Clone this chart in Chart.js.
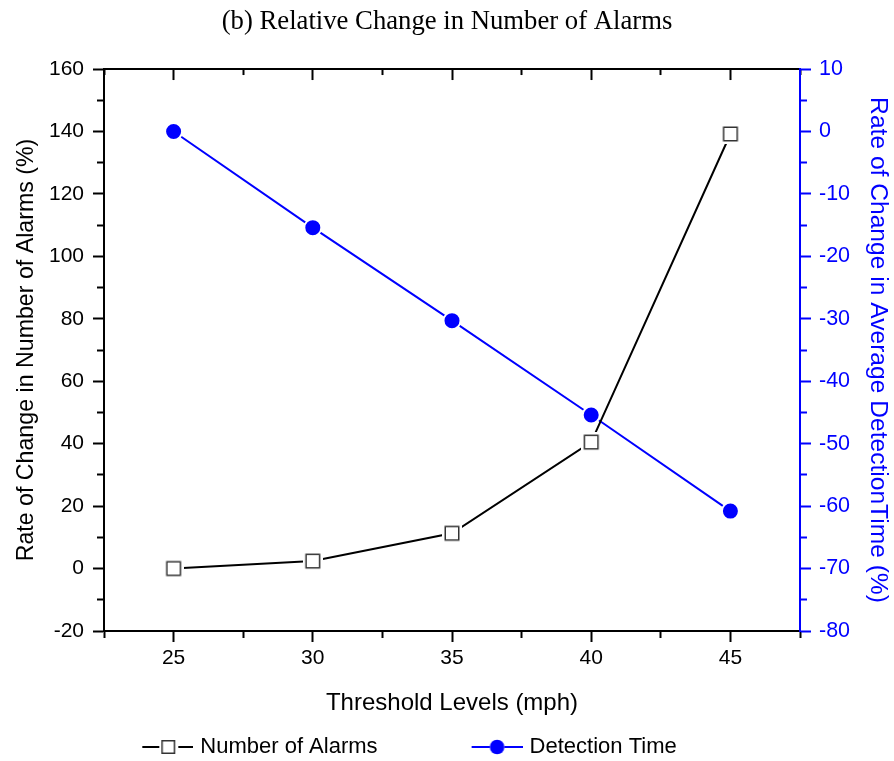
<!DOCTYPE html>
<html>
<head>
<meta charset="utf-8">
<script src="https://cdn.jsdelivr.net/npm/chart.js@4/dist/chart.umd.min.js"></script>
<style>
html, body { margin: 0; padding: 0; background: #fff; }
#wrap { width: 894px; height: 761px; }
</style>
</head>
<body>
<div id="wrap"><canvas id="c" width="894" height="761"></canvas></div>
<script>
// ---- data ----
const chartTitle = '(b) Relative Change in Number of Alarms';
const xTitle = 'Threshold Levels (mph)';
const leftTitle = 'Rate of Change in Number of Alarms (%)';
const rightTitle = 'Rate of Change in Average DetectionTime (%)';
const seriesNames = ['Number of Alarms', 'Detection Time'];
const thresholds = [25, 30, 35, 40, 45];
const alarmsChange = [0, 2.4, 11.3, 40.5, 139.2];
const detectionChange = [0, -15.4, -30.3, -45.4, -60.8];
const xMajorTicks = [25, 30, 35, 40, 45];
const xMinorTicks = [22.5, 27.5, 32.5, 37.5, 42.5, 47.5];
const leftMajorTicks = [-20, 0, 20, 40, 60, 80, 100, 120, 140, 160];
const leftMinorTicks = [-10, 10, 30, 50, 70, 90, 110, 130, 150];
const rightMajorTicks = [-80, -70, -60, -50, -40, -30, -20, -10, 0, 10];
const rightMinorTicks = [-75, -65, -55, -45, -35, -25, -15, -5, 5];

const BLUE = '#0000ff';
const BLACK = '#000000';
Chart.defaults.font.family = "'Liberation Sans', Arial, sans-serif";

// ---- marker images ----
function squareMarker() {
  const c = document.createElement('canvas');
  c.width = 20; c.height = 20;
  const g = c.getContext('2d');
  g.fillStyle = '#fff'; g.fillRect(0, 0, 20, 20);
  g.strokeStyle = '#333'; g.lineWidth = 1.5;
  g.strokeRect(3.25, 3.25, 13.5, 13.5);
  return c;
}
const LEG_W = 131;
function legendIcon(kind) {
  const w = LEG_W + 8, h = 22;
  const c = document.createElement('canvas');
  c.width = w; c.height = h;
  const g = c.getContext('2d');
  const s = w - 51;
  g.lineWidth = 2;
  if (kind === 0) {
    g.strokeStyle = BLACK;
    g.beginPath(); g.moveTo(s, 11); g.lineTo(s + 17, 11); g.stroke();
    g.beginPath(); g.moveTo(s + 36, 11); g.lineTo(w, 11); g.stroke();
    g.fillStyle = '#fff'; g.fillRect(s + 19, 4, 14, 14);
    g.strokeStyle = '#333'; g.lineWidth = 1.5;
    g.strokeRect(s + 19.75, 4.75, 12.5, 12.5);
  } else {
    g.strokeStyle = BLUE;
    g.beginPath(); g.moveTo(s, 11); g.lineTo(s + 18, 11); g.stroke();
    g.beginPath(); g.moveTo(s + 33, 11); g.lineTo(w, 11); g.stroke();
    g.fillStyle = BLUE;
    g.beginPath(); g.arc(s + 25.5, 11, 7.3, 0, Math.PI * 2); g.fill();
  }
  return c;
}
const legendIcons = [legendIcon(0), legendIcon(1)];

function setTicks(list) { return (s) => { s.ticks = list.map(v => ({ value: v })); }; }
function fixW(w) { return (s) => { s.width = w; }; }
function fixH(h) { return (s) => { s.height = h; }; }

const legendShift = {
  id: 'legendShift',
  afterLayout(chart) {
    if (chart.legend) { chart.legend.right = 735; }
  }
};

const minorGrid = (color, len) => ({ drawOnChartArea: false, drawTicks: true, tickLength: len, tickWidth: 2, tickColor: color });

new Chart(document.getElementById('c'), {
  type: 'line',
  data: {
    datasets: [
      {
        label: seriesNames[0],
        data: thresholds.map((x, i) => ({ x: x, y: alarmsChange[i] })),
        xAxisID: 'x', yAxisID: 'y',
        borderColor: BLACK, backgroundColor: '#fff', borderWidth: 2,
        pointStyle: squareMarker(), pointRadius: 10, pointHoverRadius: 10,
        tension: 0, fill: false
      },
      {
        label: seriesNames[1],
        data: thresholds.map((x, i) => ({ x: x, y: detectionChange[i] })),
        xAxisID: 'x', yAxisID: 'y1',
        borderColor: BLUE, backgroundColor: BLUE, borderWidth: 2,
        pointStyle: 'circle', pointRadius: 8.5, pointHoverRadius: 8.5,
        pointBackgroundColor: BLUE, pointBorderColor: '#fff', pointBorderWidth: 2,
        tension: 0, fill: false
      }
    ]
  },
  options: {
    responsive: false,
    animation: false,
    devicePixelRatio: 1,
    layout: { padding: 0 },
    plugins: {
      tooltip: { enabled: false },
      title: {
        display: true, text: chartTitle, color: BLACK,
        font: { family: "'Liberation Serif', 'Times New Roman', serif", size: 26.7, weight: 'normal' },
        padding: { top: 6, bottom: 31 }
      },
      legend: {
        display: true, position: 'bottom', align: 'center', maxHeight: 35,
        labels: {
          usePointStyle: true, pointStyleWidth: LEG_W, padding: 10,
          color: BLACK, font: { size: 22 },
          generateLabels: (chart) => chart.data.datasets.map((ds, i) => ({
            text: ds.label, pointStyle: legendIcons[i], fillStyle: ds.borderColor,
            strokeStyle: ds.borderColor, lineWidth: 0, hidden: false, datasetIndex: i, fontColor: BLACK
          }))
        }
      }
    },
    scales: {
      x: {
        type: 'linear', position: 'bottom', min: 22.5, max: 47.5, weight: 0,
        afterBuildTicks: setTicks(xMajorTicks), afterFit: fixH(95),
        grid: minorGrid(BLACK, 11),
        border: { display: true, color: BLACK, width: 2 },
        ticks: { color: BLACK, font: { size: 21 }, padding: 4, maxRotation: 0, autoSkip: false, callback: v => String(v) },
        title: { display: true, text: xTitle, color: BLACK, font: { size: 24 }, padding: { top: 0, bottom: 8 } }
      },
      xMinor: {
        type: 'linear', position: 'bottom', min: 22.5, max: 47.5, weight: -1,
        afterBuildTicks: setTicks(xMinorTicks), afterFit: fixH(0),
        grid: minorGrid(BLACK, 7), border: { display: false },
        ticks: { display: false }
      },
      xTop: {
        type: 'linear', position: 'top', min: 22.5, max: 47.5, weight: 0,
        afterBuildTicks: setTicks(xMajorTicks), afterFit: fixH(0),
        grid: minorGrid(BLACK, -11), border: { display: true, color: BLACK, width: 2 },
        ticks: { display: false }
      },
      xTopMinor: {
        type: 'linear', position: 'top', min: 22.5, max: 47.5, weight: -1,
        afterBuildTicks: setTicks(xMinorTicks), afterFit: fixH(0),
        grid: minorGrid(BLACK, -6), border: { display: false },
        ticks: { display: false }
      },
      y: {
        type: 'linear', position: 'left', min: -20, max: 160, weight: 0,
        afterBuildTicks: setTicks(leftMajorTicks), afterFit: fixW(104),
        grid: minorGrid(BLACK, 11),
        border: { display: true, color: BLACK, width: 2 },
        ticks: { color: BLACK, font: { size: 21 }, padding: 9, autoSkip: false, callback: v => String(v) },
        title: { display: true, text: leftTitle, color: BLACK, font: { size: 23.2 }, padding: { top: 13, bottom: 0 } }
      },
      yMinor: {
        type: 'linear', position: 'left', min: -20, max: 160, weight: -1,
        afterBuildTicks: setTicks(leftMinorTicks), afterFit: fixW(0),
        grid: minorGrid(BLACK, 7), border: { display: false },
        ticks: { display: false }
      },
      y1: {
        type: 'linear', position: 'right', min: -80, max: 10, weight: 0,
        afterBuildTicks: setTicks(rightMajorTicks), afterFit: fixW(94),
        grid: minorGrid(BLUE, 11),
        border: { display: true, color: BLUE, width: 2 },
        ticks: { color: BLUE, font: { size: 21.5 }, padding: 8, autoSkip: false, callback: v => String(v) },
        title: { display: true, text: rightTitle, color: BLUE, font: { size: 24.6 }, padding: { top: 1.2, bottom: 0 } }
      },
      y1Minor: {
        type: 'linear', position: 'right', min: -80, max: 10, weight: -1,
        afterBuildTicks: setTicks(rightMinorTicks), afterFit: fixW(0),
        grid: minorGrid(BLUE, 7), border: { display: false },
        ticks: { display: false }
      }
    }
  },
  plugins: [legendShift]
});
</script>
</body>
</html>
